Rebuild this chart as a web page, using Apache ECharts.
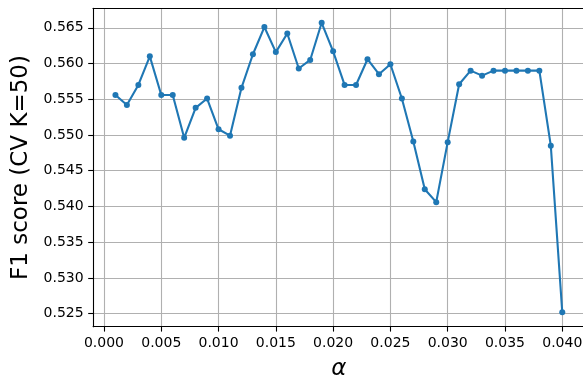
<!DOCTYPE html>
<html>
<head>
<meta charset="utf-8">
<script src="https://cdn.jsdelivr.net/npm/echarts@6/dist/echarts.min.js"></script>
<style>
  html, body { margin: 0; padding: 0; background: #fff; }
  #chart { width: 583px; height: 377px; }
</style>
</head>
<body>
<div id="chart"></div>
<script>
// Regularisation strength alpha and the cross-validated F1 score at each value
const alphas = [
  0.001, 0.002, 0.003, 0.004, 0.005, 0.006, 0.007, 0.008, 0.009, 0.010,
  0.011, 0.012, 0.013, 0.014, 0.015, 0.016, 0.017, 0.018, 0.019, 0.020,
  0.021, 0.022, 0.023, 0.024, 0.025, 0.026, 0.027, 0.028, 0.029, 0.030,
  0.031, 0.032, 0.033, 0.034, 0.035, 0.036, 0.037, 0.038, 0.039, 0.040
];
const f1Scores = [
  0.5556, 0.5542, 0.5570, 0.5610, 0.5556, 0.5556, 0.5496, 0.5538, 0.5551, 0.5508,
  0.5499, 0.5566, 0.5613, 0.5651, 0.5616, 0.5642, 0.5593, 0.5605, 0.5657, 0.5617,
  0.5570, 0.5570, 0.5606, 0.5585, 0.5599, 0.5551, 0.5491, 0.5424, 0.5406, 0.5490,
  0.5571, 0.5590, 0.5583, 0.5590, 0.5590, 0.5590, 0.5590, 0.5590, 0.5485, 0.5252
];
const xTicks = [0.000, 0.005, 0.010, 0.015, 0.020, 0.025, 0.030, 0.035, 0.040];
const yTicks = [0.525, 0.530, 0.535, 0.540, 0.545, 0.550, 0.555, 0.560, 0.565];

// axis limits with 5% padding around the data
function padded(values) {
  const lo = Math.min(...values), hi = Math.max(...values), pad = (hi - lo) * 0.05;
  return [lo - pad, hi + pad];
}
const [xMin, xMax] = padded(alphas);
const [yMin, yMax] = padded(f1Scores);

const FONT = 'DejaVu Sans';
const GRID_COLOR = '#b0b0b0';
const spine = { show: true, onZero: false, lineStyle: { color: '#000', width: 1.1 } };

const chart = echarts.init(document.getElementById('chart'), null, { renderer: 'canvas' });
chart.setOption({
  animation: false,
  backgroundColor: '#ffffff',
  grid: {
    left: 93.1, right: -1.6, top: 8.3, bottom: 50.3,
    outerBoundsMode: 'none',
    containLabel: false,
    show: false
  },
  xAxis: [{
    type: 'value',
    position: 'bottom',
    min: xMin, max: xMax,
    name: 'α',
    nameLocation: 'middle',
    nameGap: 31,
    nameTextStyle: { fontFamily: FONT, fontSize: 23, fontStyle: 'italic', color: '#000' },
    axisLine: spine,
    axisTick: { show: true, inside: false, length: 4.9, lineStyle: { color: '#000', width: 1.1 }, customValues: xTicks },
    axisLabel: {
      customValues: xTicks, margin: 9.5, color: '#000', fontFamily: FONT, fontSize: 14,
      formatter: v => v.toFixed(3)
    },
    splitLine: { show: true, lineStyle: { color: GRID_COLOR, width: 1.1 } }
  }, {
    // top frame line
    type: 'value',
    position: 'top',
    min: xMin, max: xMax,
    axisLine: spine,
    axisTick: { show: false },
    axisLabel: { show: false },
    splitLine: { show: false }
  }],
  yAxis: {
    type: 'value',
    min: yMin, max: yMax,
    name: 'F1 score (CV K=50)',
    nameLocation: 'middle',
    nameGap: 58,
    nameRotate: 90,
    nameTextStyle: { fontFamily: FONT, fontSize: 23, color: '#000' },
    axisLine: spine,
    axisTick: { show: true, inside: false, length: 4.9, lineStyle: { color: '#000', width: 1.1 }, customValues: yTicks },
    axisLabel: {
      customValues: yTicks, margin: 9.5, color: '#000', fontFamily: FONT, fontSize: 14,
      formatter: v => v.toFixed(3)
    },
    splitLine: { show: true, lineStyle: { color: GRID_COLOR, width: 1.1 } }
  },
  series: [{
    type: 'line',
    xAxisIndex: 0,
    data: alphas.map((a, i) => [a, f1Scores[i]]),
    symbol: 'circle',
    symbolSize: 6,
    showAllSymbol: true,
    lineStyle: { color: '#1f77b4', width: 2.1 },
    itemStyle: { color: '#1f77b4', borderWidth: 0 },
    clip: false
  }]
});
</script>
</body>
</html>
